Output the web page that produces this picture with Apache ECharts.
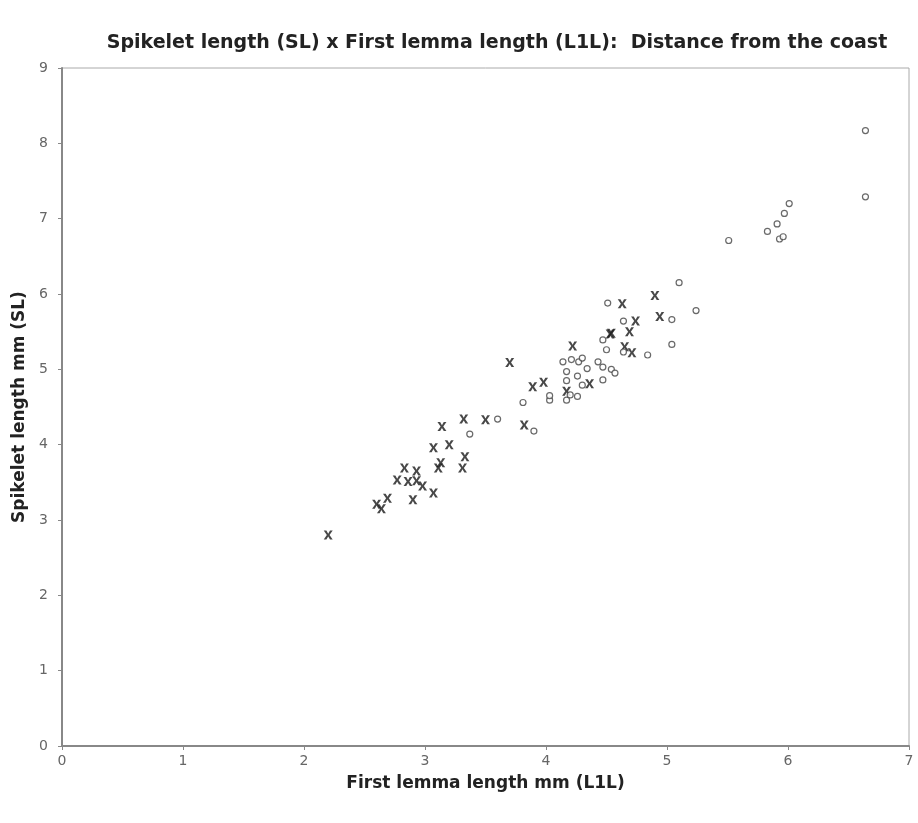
<!DOCTYPE html>
<html>
<head>
<meta charset="utf-8">
<script src="https://cdn.jsdelivr.net/npm/echarts@6/dist/echarts.min.js"></script>
<style>html,body{margin:0;padding:0;background:#fff;}#chart{width:918px;height:823px;}</style>
</head>
<body>
<div id="chart"></div>
<script>
// Series "x" markers: [L1L, SL]
const seriesX = [
  [2.20, 2.80], [2.60, 3.21], [2.64, 3.15], [2.69, 3.29], [2.77, 3.53],
  [2.83, 3.69], [2.86, 3.51], [2.90, 3.27], [2.93, 3.65], [2.93, 3.52],
  [2.98, 3.45], [3.07, 3.36], [3.07, 3.96], [3.11, 3.69], [3.13, 3.76],
  [3.14, 4.24], [3.20, 4.00], [3.31, 3.69], [3.33, 3.84], [3.32, 4.34],
  [3.50, 4.33], [3.70, 5.09], [3.82, 4.26], [3.89, 4.77], [3.98, 4.83],
  [4.17, 4.71], [4.22, 5.31], [4.36, 4.81], [4.53, 5.47], [4.54, 5.48],
  [4.63, 5.87], [4.65, 5.30], [4.69, 5.50], [4.71, 5.22], [4.74, 5.64],
  [4.90, 5.98], [4.94, 5.70]
];
// Series "o" markers: [L1L, SL]
const seriesO = [
  [3.37, 4.14], [3.60, 4.34], [3.81, 4.56], [3.90, 4.18], [4.03, 4.59],
  [4.03, 4.65], [4.14, 5.10], [4.17, 4.97], [4.17, 4.85], [4.17, 4.59],
  [4.20, 4.66], [4.21, 5.13], [4.26, 4.91], [4.26, 4.64], [4.27, 5.10],
  [4.30, 5.15], [4.30, 4.79], [4.34, 5.01], [4.43, 5.10], [4.47, 5.03],
  [4.47, 5.39], [4.47, 4.86], [4.50, 5.26], [4.51, 5.88], [4.54, 5.00],
  [4.57, 4.95], [4.64, 5.64], [4.64, 5.23], [4.84, 5.19], [5.04, 5.66],
  [5.04, 5.33], [5.10, 6.15], [5.24, 5.78], [5.51, 6.71], [5.83, 6.83],
  [5.91, 6.93], [5.93, 6.73], [5.96, 6.76], [5.97, 7.07], [6.01, 7.20],
  [6.64, 7.29], [6.64, 8.17]
];
const xTicks = [0, 1, 2, 3, 4, 5, 6, 7];
const yTicks = [0, 1, 2, 3, 4, 5, 6, 7, 8, 9];

const chart = echarts.init(document.getElementById('chart'), null, {renderer: 'canvas'});
const xPath = 'path://M0,0L3,0L5,3.5L7,0L10,0L6.5,5L10,10L7,10L5,6.5L3,10L0,10L3.5,5Z';
const tickFont = {color: '#666', fontSize: 14, fontFamily: 'DejaVu Sans'};
chart.setOption({
  animation: false,
  backgroundColor: '#fff',
  title: {
    text: 'Spikelet length (SL) x First lemma length (L1L):  Distance from the coast',
    left: 492, top: 29, textAlign: 'center',
    textStyle: {fontFamily: 'DejaVu Sans', fontWeight: 'bold', fontSize: 19, color: '#222'}
  },
  grid: {left: 62, right: 9, top: 68, bottom: 77, show: true, borderColor: '#aaa', borderWidth: 1, backgroundColor: '#fff'},
  xAxis: {
    type: 'value', min: xTicks[0], max: xTicks[xTicks.length - 1], interval: 1,
    name: 'First lemma length mm (L1L)', nameLocation: 'middle', nameGap: 29,
    nameTextStyle: {fontFamily: 'DejaVu Sans', fontWeight: 'bold', fontSize: 17, color: '#222'},
    axisLine: {lineStyle: {color: '#888', width: 2}},
    axisTick: {show: true, length: 4, lineStyle: {color: '#888'}},
    axisLabel: Object.assign({margin: 8}, tickFont),
    splitLine: {show: false}
  },
  yAxis: {
    type: 'value', min: yTicks[0], max: yTicks[yTicks.length - 1], interval: 1,
    name: 'Spikelet length mm (SL)', nameLocation: 'middle', nameGap: 32,
    nameTextStyle: {fontFamily: 'DejaVu Sans', fontWeight: 'bold', fontSize: 17, color: '#222'},
    axisLine: {show: true, lineStyle: {color: '#888', width: 2}},
    axisTick: {show: true, length: 4, lineStyle: {color: '#888'}},
    axisLabel: Object.assign({margin: 14}, tickFont),
    splitLine: {show: false}
  },
  series: [
    {
      name: 'x', type: 'scatter', data: seriesX, symbol: xPath, symbolSize: 9,
      itemStyle: {color: '#1a1a1a'}
    },
    {
      name: 'o', type: 'scatter', data: seriesO, symbol: 'circle', symbolSize: 6,
      itemStyle: {color: '#fff', borderColor: '#444', borderWidth: 1.2}
    }
  ]
});
</script>
</body>
</html>
